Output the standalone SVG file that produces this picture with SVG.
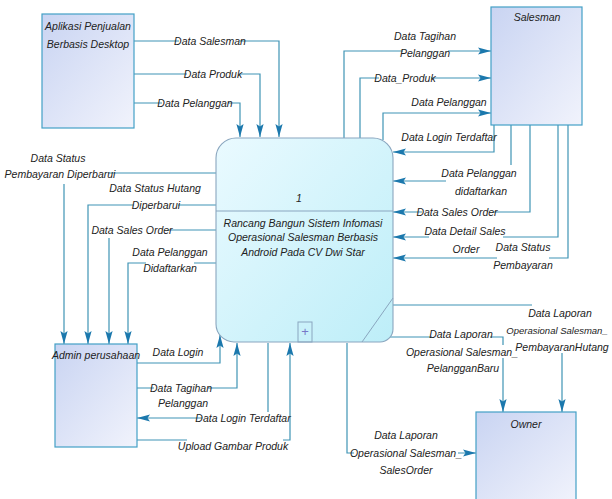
<svg xmlns="http://www.w3.org/2000/svg" width="612" height="499" viewBox="0 0 612 499">
<style>
.t{font-family:"Liberation Sans Narrow","Liberation Sans",Arial,sans-serif;font-size:10.5px;font-style:italic;fill:#222;text-anchor:middle}
.conn{fill:none;stroke:#3f94b5;stroke-width:1.2;marker-end:url(#arr)}
.bg{fill:#fff}
.ent{fill:url(#entg);stroke:#43a0c6;stroke-width:1.2}
</style>
<defs>
<linearGradient id="entg" x1="0" y1="0" x2="1" y2="1">
<stop offset="0" stop-color="#c9d4f2"/><stop offset="1" stop-color="#f1f3fc"/>
</linearGradient>
<linearGradient id="procg" x1="0" y1="0" x2="1" y2="1">
<stop offset="0" stop-color="#eafaff"/><stop offset="1" stop-color="#bdeef8"/>
</linearGradient>
<marker id="arr" markerUnits="userSpaceOnUse" markerWidth="14" markerHeight="8" viewBox="-14 -4 14 8" refX="0" refY="0" orient="auto">
<path d="M0,0 L-13,-3.6 L-10.5,0 L-13,3.6 Z" fill="#1b78ad"/>
</marker>
</defs>
<rect width="612" height="499" fill="#fff"/>

<g id="connectors">
<path class="conn" d="M134,41 H279 V137"/>
<path class="conn" d="M134,74 H260 V137"/>
<path class="conn" d="M134,103 H240 V137"/>
<path class="conn" d="M344,138 V51 H491"/>
<path class="conn" d="M360,138 V78 H491"/>
<path class="conn" d="M383,140 V113 H491"/>
<path class="conn" d="M494,125 V152 H393"/>
<path class="conn" d="M511,125 V181 H393"/>
<path class="conn" d="M530,125 V212 H393"/>
<path class="conn" d="M558,125 V237 H393"/>
<path class="conn" d="M568,125 V258 H393"/>
<path class="conn" d="M216,173 H64 V344"/>
<path class="conn" d="M216,205 H88 V344"/>
<path class="conn" d="M216,230 H109 V344"/>
<path class="conn" d="M216,263 H128 V344"/>
<path class="conn" d="M137,363 H220 V335"/>
<path class="conn" d="M137,388 H237 V343"/>
<path class="conn" d="M268,343 V418 H137"/>
<path class="conn" d="M137,440 H290 V343"/>
<path class="conn" d="M393,305 H562 V412"/>
<path class="conn" d="M387,337 H503 V412"/>
<path class="conn" d="M347,343 V453 H476"/>
<g id="label-bg">
<rect class="bg" x="179" y="35" width="61" height="12"/>
<rect class="bg" x="187" y="68" width="52" height="12"/>
<rect class="bg" x="162" y="97" width="66" height="12"/>
<rect class="bg" x="403" y="45" width="45" height="13"/>
<rect class="bg" x="379" y="72" width="52" height="12"/>
<rect class="bg" x="446" y="165" width="67" height="32"/>
<rect class="bg" x="422" y="206" width="71" height="12"/>
<rect class="bg" x="429" y="225" width="74" height="18"/>
<rect class="bg" x="497" y="241" width="52" height="30"/>
<rect class="bg" x="13" y="150" width="95" height="34"/>
<rect class="bg" x="134" y="199" width="44" height="12"/>
<rect class="bg" x="97" y="224" width="71" height="14"/>
<rect class="bg" x="146" y="258" width="48" height="16"/>
<rect class="bg" x="154" y="382" width="54" height="12"/>
<rect class="bg" x="202" y="412" width="82" height="12"/>
<rect class="bg" x="187" y="436" width="96" height="17"/>
<rect class="bg" x="532" y="303" width="58" height="15"/>
<rect class="bg" x="510" y="318" width="97" height="35"/>
<rect class="bg" x="410" y="345" width="104" height="13"/>
<rect class="bg" x="432" y="328" width="58" height="14"/>
<rect class="bg" x="354" y="447" width="104" height="12"/>
</g>
<g id="labels">
<text class="t" x="210" y="44.7">Data Salesman</text>
<text class="t" x="213" y="77.7">Data Produk</text>
<text class="t" x="195" y="106.7">Data Pelanggan</text>
<text class="t" x="425" y="39.7">Data Tagihan</text>
<text class="t" x="425" y="56.7">Pelanggan</text>
<text class="t" x="405" y="81.7">Data_Produk</text>
<text class="t" x="449" y="105.7">Data Pelanggan</text>
<text class="t" x="449" y="140.7">Data Login Terdaftar</text>
<text class="t" x="479" y="176.7">Data Pelanggan</text>
<text class="t" x="481" y="194.7">didaftarkan</text>
<text class="t" x="457" y="215.7">Data Sales Order</text>
<text class="t" x="465" y="234.7">Data Detail Sales</text>
<text class="t" x="466" y="252.7">Order</text>
<text class="t" x="523" y="250.7">Data Status</text>
<text class="t" x="523" y="268.7">Pembayaran</text>
<text class="t" x="58" y="161.7">Data Status</text>
<text class="t" x="60" y="177.7">Pembayaran Diperbarui</text>
<text class="t" x="155" y="191.7">Data Status Hutang</text>
<text class="t" x="156" y="208.7">Diperbarui</text>
<text class="t" x="132" y="233.7">Data Sales Order</text>
<text class="t" x="170" y="255.7">Data Pelanggan</text>
<text class="t" x="170" y="271.7">Didaftarkan</text>
<text class="t" x="178" y="355.7">Data Login</text>
<text class="t" x="181" y="391.7">Data Tagihan</text>
<text class="t" x="183" y="406.7">Pelanggan</text>
<text class="t" x="243" y="421.7">Data Login Terdaftar</text>
<text class="t" x="233" y="449.7">Upload Gambar Produk</text>
<text class="t" x="560" y="316.7">Data Laporan</text>
<text class="t" x="557" y="333.5" style="font-size:9.5px">Operasional Salesman_</text>
<text class="t" x="562" y="350.7">PembayaranHutang</text>
<text class="t" x="461" y="337.7">Data Laporan</text>
<text class="t" x="462" y="355.7">Operasional Salesman_</text>
<text class="t" x="463" y="371.7">PelangganBaru</text>
<text class="t" x="406" y="438.7">Data Laporan</text>
<text class="t" x="406" y="456.7">Operasional Salesman_</text>
<text class="t" x="406" y="473.7">SalesOrder</text>
</g>
</g>

<g id="node-aplikasi">
<rect class="ent" x="42" y="14" width="92" height="114"/>
<text class="t" x="88" y="29.7">Aplikasi Penjualan</text>
<text class="t" x="88" y="47.7">Berbasis Desktop</text>
</g>
<g id="node-salesman">
<rect class="ent" x="491" y="7" width="91" height="118"/>
<text class="t" x="537" y="20.7">Salesman</text>
</g>
<g id="node-admin">
<rect class="ent" x="55" y="344" width="82" height="103"/>
<text class="t" x="96" y="358.7">Admin perusahaan</text>
</g>
<g id="node-owner">
<rect class="ent" x="476" y="412" width="100" height="90"/>
<text class="t" x="526" y="427.7">Owner</text>
</g>
<g id="node-process">
<path d="M236,138 H373 A20,20 0 0 1 393,158 V329 A13,13 0 0 1 380,342 H234 A18,18 0 0 1 216,324 V158 A20,20 0 0 1 236,138 Z" fill="url(#procg)" stroke="#8aa6bf" stroke-width="1.1"/>
<line x1="216" y1="211" x2="393" y2="211" stroke="#8aa6bf" stroke-width="1.1"/>
<line x1="393" y1="298" x2="362" y2="342" stroke="#8aa6bf" stroke-width="1"/>
<rect x="298" y="322" width="14" height="20" fill="none" stroke="#8aa6bf" stroke-width="1"/>
<text x="305" y="336" font-family="Liberation Sans, sans-serif" font-size="13" fill="#7878c8" text-anchor="middle">+</text>
<text class="t" x="299" y="201.7">1</text>
<text class="t" x="303" y="226.7">Rancang Bangun Sistem Infomasi</text>
<text class="t" x="303" y="240.7">Operasional Salesman Berbasis</text>
<text class="t" x="303" y="255.7">Android Pada CV Dwi Star</text>
</g>
</svg>
